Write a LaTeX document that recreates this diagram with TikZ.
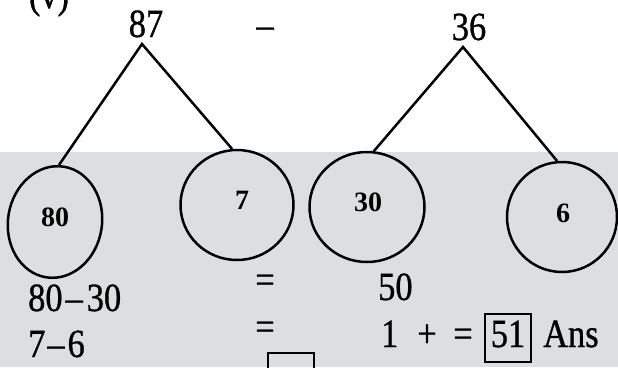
\documentclass[tikz,border=0pt]{standalone}
\usepackage{fontspec}
\setmainfont{Liberation Serif}[FakeStretch=0.86,FakeBold=0.8]
\newfontfamily\labfont{Liberation Serif}
\usetikzlibrary{shapes.geometric}
\definecolor{paper}{RGB}{221,222,223}
\begin{document}
\begin{tikzpicture}[x=1pt,y=-1pt,
  txt/.style={inner sep=0pt, font=\fontsize{40}{46}\selectfont},
  bub/.style={ellipse, draw, line width=2.5pt, inner sep=0pt},
  lab/.style={inner sep=0pt, font=\labfont\bfseries\fontsize{28}{32}\selectfont},
  edge/.style={line width=2.5pt},
  ansbox/.style={txt, draw, line width=2pt, minimum width=46pt, text height=33pt, text depth=15pt}
]
\useasboundingbox (0,0) rectangle (618,367);
\clip (0,0) rectangle (618,367);
\fill[white] (0,0) rectangle (618,152);
\fill[paper] (0,152) rectangle (618,367);

% header
\node[txt, anchor=base] (v) at (49,8) {(v)};
\node[txt, anchor=base] (n87) at (146,37) {87};
\node[txt, anchor=base] (minus) at (265,38) {\kern1pt–\kern1pt};
\node[txt, anchor=base] (n36) at (469,40) {36};

% circles
\node[bub, minimum width=94pt, minimum height=112pt, rotate=-9] (c80) at (55,222) {};
\node[bub, minimum width=113pt, minimum height=110pt] (c7) at (237,205) {};
\node[bub, minimum width=115pt, minimum height=110pt] (c30) at (367,207) {};
\node[bub, minimum width=110pt, minimum height=110pt] (c6) at (562,217) {};

\node[lab] (l80) at (55,217) {80};
\node[lab] (l7) at (242,200) {7};
\node[lab] (l30) at (368,202) {30};
\node[lab] (l6) at (563,213) {6};

% tree edges
\coordinate (a87) at (142,44);
\coordinate (a36) at (463,47);
\draw[edge, line join=miter] (c80.95) -- (a87) -- (c7.95);
\draw[edge, line join=miter] (c30.83) -- (a36) -- (c6.95);

% working
\node[txt, anchor=base west] (w1) at (28,311) {80\kern3pt–\kern4pt30};
\node[txt, anchor=base west] (w2) at (28,357) {7\kern2pt–\kern3pt6};
\node[txt, anchor=base] (eq1) at (265,293) {=};
\node[txt, anchor=base] (eq2) at (265,340) {=};
\node[txt, anchor=base west] (r50) at (378,300) {50};
\node[txt, anchor=base west] (one) at (381,347) {1};
\node[txt, anchor=base] (plus) at (427,347) {+};
\node[txt, anchor=base] (eq3) at (463,347) {=};
\node[ansbox, anchor=base] (b51) at (508,347) {51};
\node[txt, anchor=base west] (ans) at (543,347) {Ans};

% partially visible last line
\node[txt, anchor=base] (w3) at (213,398) {50};
\node[ansbox, anchor=base, text height=45pt] (b3) at (291,398) {51};
\end{tikzpicture}
\end{document}
